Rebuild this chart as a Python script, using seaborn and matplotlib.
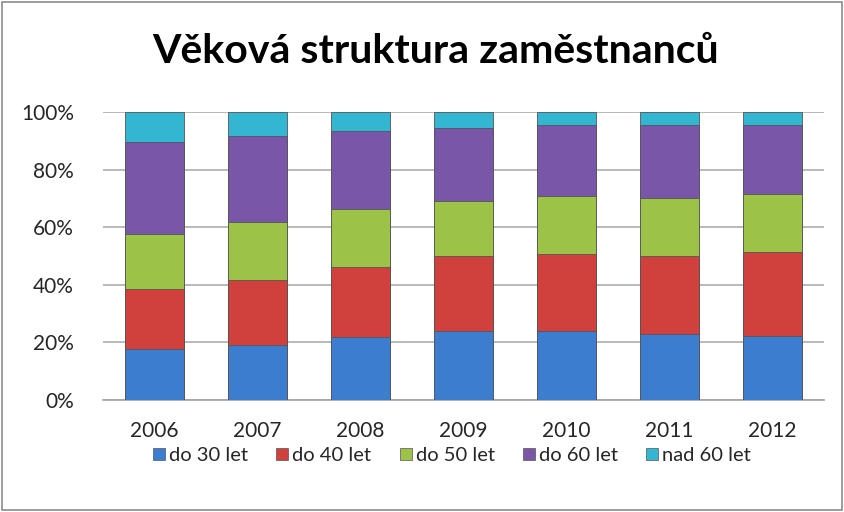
import matplotlib.pyplot as plt
import numpy as np
import pandas as pd
import seaborn as sns
from matplotlib.patches import Rectangle

years = ["2006", "2007", "2008", "2009", "2010", "2011", "2012"]
groups = ["do 30 let", "do 40 let", "do 50 let", "do 60 let", "nad 60 let"]
do_30 = [17.7, 19.1, 22.0, 24.1, 24.1, 22.9, 22.2]
do_40 = [20.8, 22.6, 24.3, 26.0, 26.6, 27.2, 29.3]
do_50 = [19.0, 20.0, 19.9, 19.0, 20.0, 19.9, 20.0]
do_60 = [32.1, 30.1, 27.2, 25.5, 25.0, 25.4, 23.9]
nad_60 = [10.4, 8.2, 6.6, 5.4, 4.3, 4.6, 4.6]
colors = ["#3D7DCF", "#D0403C", "#9CC247", "#7A56A8", "#33B6D2"]

sns.set_theme(style="white")
plt.rcParams["font.family"] = ["Lato", "DejaVu Sans"]

df = pd.DataFrame({"rok": years, "do 30 let": do_30, "do 40 let": do_40,
                   "do 50 let": do_50, "do 60 let": do_60, "nad 60 let": nad_60})
shares = df[groups].div(df[groups].sum(axis=1), axis=0) * 100
tops = shares.cumsum(axis=1)

fig = plt.figure(figsize=(8.45, 5.12), dpi=100)
ax = fig.add_axes([0.122, 0.219, 0.853, 0.562])

# stacked bars: draw cumulative totals from the top series down
for name, color in reversed(list(zip(groups, colors))):
    sns.barplot(x=df["rok"], y=tops[name], color=color, width=0.57,
                edgecolor="#555555", linewidth=0.6, saturation=1, ax=ax, zorder=3)

ax.set_ylim(0, 100)
ax.set_yticks(np.arange(0, 101, 20))
ax.set_yticklabels([f"{v}%" for v in range(0, 101, 20)], fontsize=15)
ax.tick_params(axis="x", labelsize=15, pad=9)
ax.tick_params(axis="y", pad=15)
ax.set_xlabel("")
ax.set_ylabel("")
ax.yaxis.grid(True, color="#a6a6a6", linewidth=1.1, zorder=0)
for side in ["top", "right", "left"]:
    ax.spines[side].set_visible(False)
ax.spines["bottom"].set_color("#a6a6a6")
ax.set_axisbelow(True)

fig.text(0.515, 0.9, "Věková struktura zaměstnanců", ha="center", va="center",
         fontsize=29.5, fontweight="bold", color="black")

handles = [Rectangle((0, 0), 1, 1, facecolor=c, edgecolor="#555555", linewidth=0.5) for c in colors]
fig.legend(handles, groups, loc="center", bbox_to_anchor=(0.535, 0.11), ncol=5,
           frameon=False, fontsize=14.5, handlelength=0.6, handleheight=0.6,
           handletextpad=0.2, columnspacing=1.4)

fig.patches.append(Rectangle((0.002, 0.003), 0.995, 0.994, transform=fig.transFigure,
                             fill=False, edgecolor="#8c8c8c", linewidth=1.2))

fig.savefig("out.png", dpi=100)
